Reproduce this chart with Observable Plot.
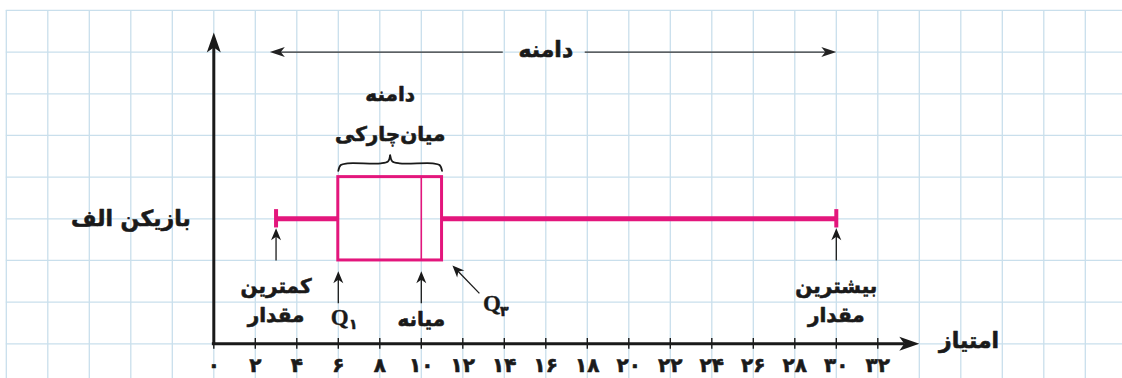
<!DOCTYPE html>
<html><head><meta charset="utf-8">
<script src="https://cdn.jsdelivr.net/npm/d3@7"></script>
<script src="https://cdn.jsdelivr.net/npm/@observablehq/plot@0.6"></script>
<style>html,body{margin:0;padding:0;background:#fff;} #chart svg{display:block}</style>
</head><body><div id="chart"></div>
<script>
// ---- data ----
const players = ["بازیکن الف"];
const minValues = [3];
const q1Values = [6];
const medianValues = [10];
const q3Values = [11];
const maxValues = [30];
const tickValues = [0, 2, 4, 6, 8, 10, 12, 14, 16, 18, 20, 22, 24, 26, 28, 30, 32];
const tickLabels = ["۰", "۲", "۴", "۶", "۸", "۱۰", "۱۲", "۱۴", "۱۶", "۱۸", "۲۰", "۲۲", "۲۴", "۲۶", "۲۸", "۳۰", "۳۲"];
const axisTitle = ["امتیاز"];
const rangeLabel = ["دامنه"];
const iqrLabel = ["دامنه", "میان‌چارکی"];
const minLabel = ["کمترین", "مقدار"];
const maxLabel = ["بیشترین", "مقدار"];
const medianLabel = ["میانه"];
const quartileNames = ["۱", "۳"];

// ---- layout ----
const W = 1122, H = 378;
const X0 = 213.3, KX = 20.75;   // px per score unit
const Y0 = 343.3, KY = 41.67;   // px per row unit
const pink = "#e3167c", ink = "#1a1a1a", gridColor = "#c9dfec";
const font = "DejaVu Sans, sans-serif";
const rowY = 3;

const rows = players.map((p, i) => ({
  player: p, row: rowY, min: minValues[i], q1: q1Values[i], median: medianValues[i], q3: q3Values[i], max: maxValues[i]
}));
const r = rows[0];

function arrowSymbol(len, half, notch) {
  return { draw(ctx) { ctx.moveTo(0, 0); ctx.lineTo(-len, -half); ctx.lineTo(-len + notch, 0); ctx.lineTo(-len, half); ctx.closePath(); } };
}
const bigHead = arrowSymbol(20, 7, 5);
const midHead = arrowSymbol(15, 5, 4);
const smallHead = arrowSymbol(12, 5, 3.5);

const gridX = d3.range(-10, 46, 2);
const gridY = d3.range(-1, 9, 1);

// annotation arrows (tail -> tip) in data units, derived from the summary values
const pointers = [
  {x1: r.min, y1: r.row - 1, x2: r.min, y2: r.row - 0.23},
  {x1: r.max, y1: r.row - 1, x2: r.max, y2: r.row - 0.23},
  {x1: r.q1, y1: 0.975, x2: r.q1, y2: 1.74},
  {x1: r.median, y1: 0.975, x2: r.median, y2: 1.74},
  {x1: r.q3 + 1.8, y1: 1.21, x2: r.q3 + 0.5, y2: 1.88}
].map(d => {
  const dx = (d.x2 - d.x1) * KX, dy = -(d.y2 - d.y1) * KY;
  const len = Math.hypot(dx, dy);
  const back = 6 / len;
  return {...d, rot: Math.atan2(dy, dx) * 180 / Math.PI,
    xe: d.x2 - (d.x2 - d.x1) * back, ye: d.y2 - (d.y2 - d.y1) * back};
});

// range arrow at top
const rangeY = 7;
const rangeTipL = r.min - 0.3, rangeTipR = r.max;
const rangeMid = 16;
const rangeSegs = [
  {x1: rangeMid - 2.05, x2: rangeTipL + 0.3},
  {x1: rangeMid + 1.9, x2: rangeTipR - 0.3}
];
const rangeHeads = [{x: rangeTipL, rot: 180}, {x: rangeTipR, rot: 0}];

// brace above the box
const mid = (r.q1 + r.q3) / 2, bt = r.row + 1;
const brace = [
  [r.q1, bt + 0.15], [r.q1 + 0.12, bt + 0.29], [r.q1 + 0.45, bt + 0.33], [mid - 0.45, bt + 0.33], [mid - 0.1, bt + 0.38], [mid, bt + 0.52]
].map(([x, y]) => ({x, y, side: "L"}))
 .concat([
  [r.q3, bt + 0.15], [r.q3 - 0.12, bt + 0.29], [r.q3 - 0.45, bt + 0.33], [mid + 0.45, bt + 0.33], [mid + 0.1, bt + 0.38], [mid, bt + 0.52]
].map(([x, y]) => ({x, y, side: "R"})));

const txt = (o) => ({fontFamily: font, fontWeight: "bold", fill: ink, stroke: ink, strokeWidth: 0.6, paintOrder: "stroke", ...o});

const chart = Plot.plot({
  width: W, height: H,
  marginTop: 0, marginRight: 0, marginBottom: 0, marginLeft: 0,
  x: {domain: [0, 32], range: [X0, X0 + 32 * KX], axis: null},
  y: {domain: [0, 8], range: [Y0, Y0 - 8 * KY], axis: null},
  style: {background: "#fff", fontFamily: font},
  marks: [
    // graph-paper grid
    Plot.ruleX(gridX, {x: d => d, y1: -1, y2: 8, stroke: gridColor, strokeWidth: 1.3}),
    Plot.ruleY(gridY, {y: d => d, x1: -10, x2: 46, stroke: gridColor, strokeWidth: 1.3}),

    // axes
    Plot.ruleY([0], {x1: -0.07, x2: 33.3, stroke: ink, strokeWidth: 3}),
    Plot.ruleX([0], {y1: -0.035, y2: 7.2, stroke: ink, strokeWidth: 3}),
    Plot.dot([{x: 34, y: 0, rot: 0}, {x: 0, y: 7.47, rot: -90}], {x: "x", y: "y", rotate: "rot", symbol: bigHead, fill: ink, stroke: null}),
    Plot.ruleX(tickValues, {x: d => d, y1: -0.13, y2: 0.13, stroke: ink, strokeWidth: 1.4}),
    Plot.text(tickValues, txt({x: d => d, y: -0.52, text: (d, i) => tickLabels[i], fontSize: 20})),
    Plot.text(axisTitle, txt({x: 36.4, y: 0.08, text: d => d, fontSize: 22})),

    // box plot
    Plot.ruleY(rows, {y: "row", x1: "min", x2: "q1", stroke: pink, strokeWidth: 5}),
    Plot.ruleY(rows, {y: "row", x1: "q3", x2: "max", stroke: pink, strokeWidth: 5}),
    Plot.ruleX(rows, {x: "min", y1: d => d.row - 0.22, y2: d => d.row + 0.22, stroke: pink, strokeWidth: 4}),
    Plot.ruleX(rows, {x: "max", y1: d => d.row - 0.22, y2: d => d.row + 0.22, stroke: pink, strokeWidth: 4}),
    Plot.rect(rows, {x1: "q1", x2: "q3", y1: d => d.row - 1, y2: d => d.row + 1, fill: "none", stroke: pink, strokeWidth: 3}),
    Plot.ruleX(rows, {x: "median", y1: d => d.row - 1, y2: d => d.row + 1, stroke: pink, strokeWidth: 1.6}),
    Plot.text(rows, txt({x: -4.0, y: "row", text: "player", fontSize: 22})),

    // range arrow
    Plot.ruleY(rangeSegs, {y: rangeY, x1: "x1", x2: "x2", stroke: "#333", strokeWidth: 1.3}),
    Plot.dot(rangeHeads, {x: "x", y: rangeY, rotate: "rot", symbol: midHead, fill: "#222", stroke: null}),
    Plot.text(rangeLabel, txt({x: rangeMid, y: rangeY + 0.05, text: d => d, fontSize: 22})),

    // interquartile range label and brace
    Plot.text(iqrLabel, txt({x: mid, y: (d, i) => i === 0 ? 5.97 : 5.02, text: d => d, fontSize: 20})),
    Plot.line(brace, {x: "x", y: "y", z: "side", curve: "catmull-rom", stroke: ink, strokeWidth: 1.8}),

    // pointer arrows
    Plot.link(pointers, {x1: "x1", y1: "y1", x2: "xe", y2: "ye", stroke: ink, strokeWidth: 1.3}),
    Plot.dot(pointers, {x: "x2", y: "y2", rotate: "rot", symbol: smallHead, fill: ink, stroke: null}),

    // annotation labels
    Plot.text(minLabel, txt({x: r.min, y: (d, i) => i === 0 ? 1.38 : 0.68, text: d => d, fontSize: 20})),
    Plot.text(maxLabel, txt({x: r.max, y: (d, i) => i === 0 ? 1.38 : 0.68, text: d => d, fontSize: 20})),
    Plot.text(medianLabel, txt({x: r.median, y: 0.57, text: d => d, fontSize: 20})),
    Plot.text(["Q", "Q"], txt({x: (d, i) => i === 0 ? r.q1 + 0.07 : r.q3 + 2.4, y: (d, i) => i === 0 ? 0.62 : 0.97, text: d => d, fontSize: 23, strokeWidth: 0.3, fontFamily: "Liberation Serif, serif"})),
    Plot.text(quartileNames, txt({x: (d, i) => i === 0 ? r.q1 + 0.72 : r.q3 + 3.0, y: (d, i) => i === 0 ? 0.46 : 0.78, text: d => d, fontSize: 14}))
  ]
});
document.getElementById("chart").append(chart);
</script>
</body></html>
